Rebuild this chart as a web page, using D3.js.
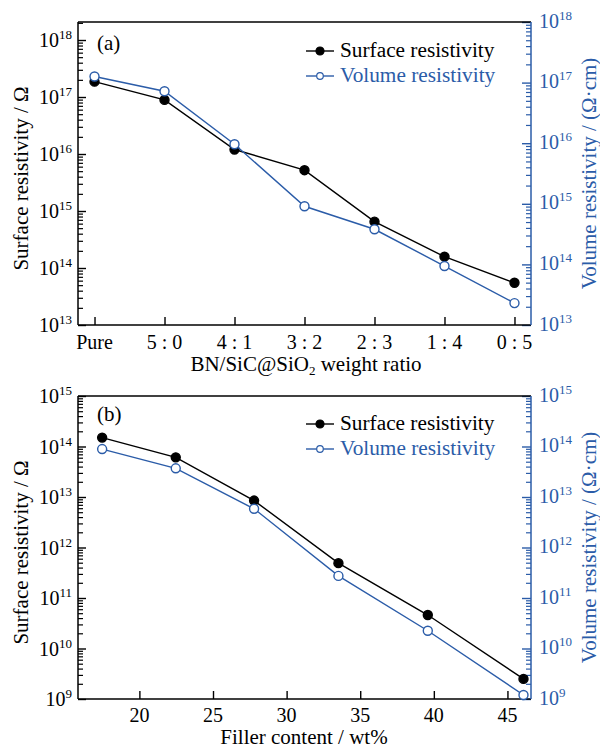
<!DOCTYPE html>
<html>
<head>
<meta charset="utf-8">
<script src="https://cdn.jsdelivr.net/npm/d3@7"></script>
<style>
  body { margin: 0; background: #fff; }
</style>
</head>
<body>
<div class="chart-container"></div>
<script>
var blue = '#2b5ca8';
var serif = 'Liberation Serif';

// panel (a)
var ratioLabels = ['Pure', '5 : 0', '4 : 1', '3 : 2', '2 : 3', '1 : 4', '0 : 5'];
var surfaceA = [1.86e17, 8.9e16, 1.2e16, 5.2e15, 6.5e14, 1.58e14, 5.5e13];
var volumeA = [1.26e17, 7.2e16, 9.6e15, 9.1e14, 3.8e14, 9.4e13, 2.3e13];
var majorsA = [13, 14, 15, 16, 17, 18];

// panel (b)
var filler = [17.47, 22.47, 27.79, 33.52, 39.59, 46.09];
var surfaceB = [1.5e14, 6.1e13, 8.5e12, 4.9e11, 4.6e10, 2.5e9];
var volumeB = [8.9e13, 3.7e13, 5.85e12, 2.74e11, 2.25e10, 1.2e9];
var fillerTicks = [20, 25, 30, 35, 40, 45];
var majorsB = [9, 10, 11, 12, 13, 14, 15];

var svg = d3.select('.chart-container').append('svg')
  .attr('width', 600)
  .attr('height', 749)
  .attr('font-family', serif);

var left = 78, right = 531;

function powLabel(g, x, y, exp, anchor, color) {
  var t = g.append('text')
    .attr('x', x)
    .attr('y', y)
    .attr('text-anchor', anchor)
    .attr('fill', color)
    .attr('font-family', serif)
    .attr('font-size', 20);
  t.append('tspan').text('10');
  t.append('tspan').attr('dy', -8).attr('font-size', 13).text(exp);
}

function logAxes(g, yL, yR, majorsL, majorsR, top, bottom) {
  // left axis, black
  var minorL = yL.ticks().filter(v => Math.abs(Math.log10(v) % 1) > 1e-6);
  g.append('g')
    .attr('transform', `translate(${left},0)`)
    .call(d3.axisRight(yL).tickValues(minorL).tickSize(5).tickFormat(''))
    .call(a => a.select('.domain').remove())
    .selectAll('line').attr('stroke', '#000').attr('stroke-width', 1.2);
  g.append('g')
    .attr('transform', `translate(${left},0)`)
    .call(d3.axisRight(yL).tickValues(majorsL.map(e => Math.pow(10, e))).tickSize(8).tickFormat(''))
    .call(a => a.select('.domain').remove())
    .selectAll('line').attr('stroke', '#000').attr('stroke-width', 1.4);
  majorsL.forEach(e => powLabel(g, 72, yL(Math.pow(10, e)) + 7, e, 'end', '#000'));

  // right axis, blue
  var minorR = yR.ticks().filter(v => Math.abs(Math.log10(v) % 1) > 1e-6);
  g.append('g')
    .attr('transform', `translate(${right},0)`)
    .call(d3.axisLeft(yR).tickValues(minorR).tickSize(5).tickFormat(''))
    .call(a => a.select('.domain').remove())
    .selectAll('line').attr('stroke', blue).attr('stroke-width', 1.2);
  g.append('g')
    .attr('transform', `translate(${right},0)`)
    .call(d3.axisLeft(yR).tickValues(majorsR.map(e => Math.pow(10, e))).tickSize(9).tickFormat(''))
    .call(a => a.select('.domain').remove())
    .selectAll('line').attr('stroke', blue).attr('stroke-width', 1.4);
  majorsR.forEach(e => powLabel(g, 539, yR(Math.pow(10, e)) + 5.5, e, 'start', blue));

  // frame
  g.append('line').attr('x1', left).attr('x2', right).attr('y1', top).attr('y2', top)
    .attr('stroke', '#000').attr('stroke-width', 1.5);
  g.append('line').attr('x1', left).attr('x2', left).attr('y1', top).attr('y2', bottom)
    .attr('stroke', '#000').attr('stroke-width', 1.5);
  g.append('line').attr('x1', left).attr('x2', right).attr('y1', bottom).attr('y2', bottom)
    .attr('stroke', '#000').attr('stroke-width', 1.5);
  g.append('line').attr('x1', right).attr('x2', right).attr('y1', top).attr('y2', bottom)
    .attr('stroke', blue).attr('stroke-width', 1.5);

  // axis titles
  g.append('text')
    .attr('transform', `translate(28,${(top + bottom) / 2 + 5}) rotate(-90)`)
    .attr('text-anchor', 'middle')
    .attr('font-family', serif)
    .attr('font-size', 21)
    .text('Surface resistivity / Ω');
  g.append('text')
    .attr('transform', `translate(596,${(top + bottom) / 2}) rotate(-90)`)
    .attr('text-anchor', 'middle')
    .attr('fill', blue)
    .attr('font-family', serif)
    .attr('font-size', 21)
    .text('Volume resistivity / (Ω·cm)');
}

function series(g, data, x, y, color, filled) {
  var line = d3.line().x(d => x(d[0])).y(d => y(d[1]));
  g.append('path')
    .datum(data)
    .attr('d', line)
    .attr('fill', 'none')
    .attr('stroke', color)
    .attr('stroke-width', 1.4);
  g.selectAll(null)
    .data(data)
    .enter().append('circle')
      .attr('cx', d => x(d[0]))
      .attr('cy', d => y(d[1]))
      .attr('r', 4.5)
      .attr('fill', filled ? color : '#fff')
      .attr('stroke', color)
      .attr('stroke-width', 1.4);
}

function legend(g, top) {
  var rows = [['Surface resistivity', '#000', true], ['Volume resistivity', blue, false]];
  rows.forEach((r, i) => {
    var yy = top + i * 25;
    g.append('line').attr('x1', 306).attr('x2', 334).attr('y1', yy).attr('y2', yy)
      .attr('stroke', r[1]).attr('stroke-width', 1.4);
    g.append('circle').attr('cx', 320).attr('cy', yy).attr('r', r[2] ? 4 : 3.3)
      .attr('fill', r[2] ? r[1] : '#fff').attr('stroke', r[1]).attr('stroke-width', 1.2);
    g.append('text').attr('x', 340).attr('y', yy + 6)
      .attr('fill', r[1]).attr('font-family', serif).attr('font-size', 21.3).text(r[0]);
  });
}

/* panel (a) */
var topA = 22, botA = 325;
var gA = svg.append('g');
var xA = d3.scalePoint().domain(ratioLabels).range([left, right]).padding(0.236);
var yAL = d3.scaleLog().domain([1e13, Math.pow(10, 18.316)]).range([botA, topA]);
var yAR = d3.scaleLog().domain([1e13, 1e18]).range([botA, topA]);

logAxes(gA, yAL, yAR, majorsA, majorsA, topA, botA);
gA.append('g')
  .attr('transform', `translate(0,${botA})`)
  .call(d3.axisTop(xA).tickSize(8).tickFormat(''))
  .call(a => a.select('.domain').remove())
  .selectAll('line').attr('stroke', '#000').attr('stroke-width', 1.4);
ratioLabels.forEach(l => {
  gA.append('text').attr('x', xA(l)).attr('y', botA + 24)
    .attr('text-anchor', 'middle').attr('font-family', serif).attr('font-size', 20).text(l);
});
var titleA = gA.append('text').attr('x', 306).attr('y', 371)
  .attr('text-anchor', 'middle').attr('font-family', serif).attr('font-size', 21);
titleA.append('tspan').text('BN/SiC@SiO');
titleA.append('tspan').attr('dy', 4).attr('font-size', 13).text('2');
titleA.append('tspan').attr('dy', -4).text(' weight ratio');

series(gA, ratioLabels.map((l, i) => [l, surfaceA[i]]), xA, yAL, '#000', true);
series(gA, ratioLabels.map((l, i) => [l, volumeA[i]]), xA, yAR, blue, false);
legend(gA, 51);
gA.append('text').attr('x', 97).attr('y', 50).attr('font-family', serif).attr('font-size', 21).text('(a)');

/* panel (b) */
var topB = 396, botB = 699;
var gB = svg.append('g');
var xB = d3.scaleLinear().domain([15.83, 46.6]).range([left, right]);
var yBL = d3.scaleLog().domain([1e9, 1e15]).range([botB, topB]);
var yBR = d3.scaleLog().domain([1e9, 1e15]).range([botB, topB]);

logAxes(gB, yBL, yBR, majorsB, majorsB, topB, botB);
gB.append('g')
  .attr('transform', `translate(0,${botB})`)
  .call(d3.axisTop(xB).tickValues(fillerTicks).tickSize(8).tickFormat(''))
  .call(a => a.select('.domain').remove())
  .selectAll('line').attr('stroke', '#000').attr('stroke-width', 1.4);
fillerTicks.forEach(v => {
  gB.append('text').attr('x', xB(v)).attr('y', botB + 23)
    .attr('text-anchor', 'middle').attr('font-family', serif).attr('font-size', 20).text(v);
});
gB.append('text').attr('x', 304).attr('y', 744)
  .attr('text-anchor', 'middle').attr('font-family', serif).attr('font-size', 21).text('Filler content / wt%');

series(gB, filler.map((v, i) => [v, surfaceB[i]]), xB, yBL, '#000', true);
series(gB, filler.map((v, i) => [v, volumeB[i]]), xB, yBR, blue, false);
legend(gB, 424);
gB.append('text').attr('x', 97).attr('y', 421).attr('font-family', serif).attr('font-size', 21).text('(b)');
</script>
</body>
</html>
